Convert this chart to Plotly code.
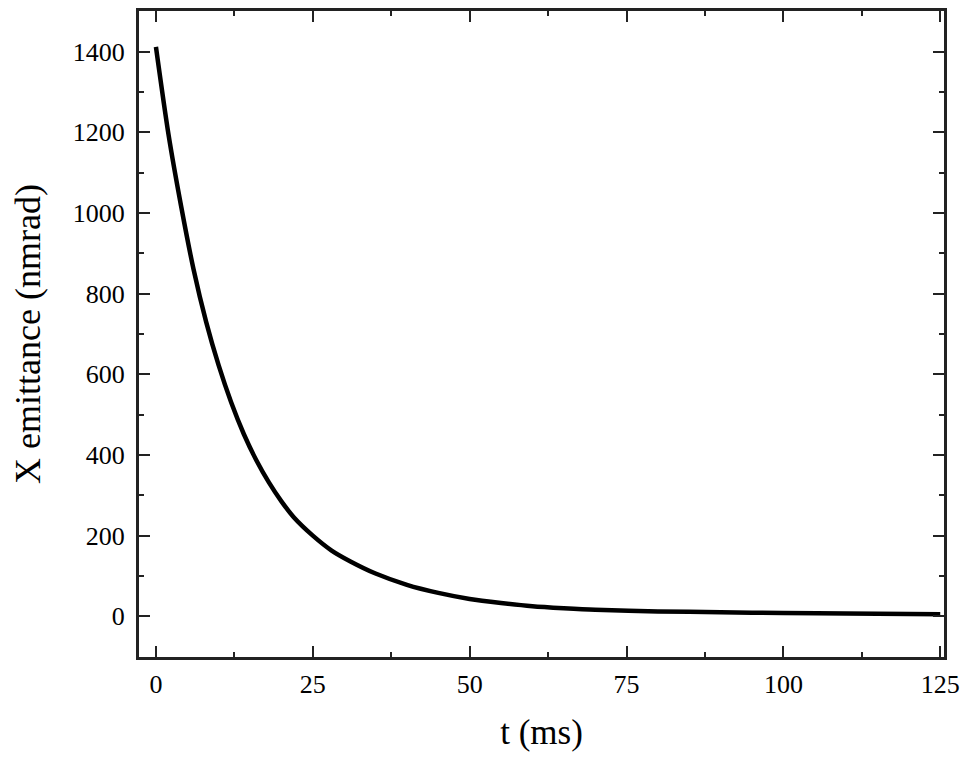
import plotly.graph_objects as go

t_ms = [0, 2, 4, 6, 8, 10, 12, 14, 16, 18, 20, 22, 25, 28, 31, 35, 40, 45, 50,
        55, 60, 65, 70, 80, 90, 100, 110, 125]
emittance = [1412, 1195, 1018, 860, 730, 622, 530, 452, 387, 332, 285, 245, 200,
             163, 136, 106, 78, 58, 43, 33, 25, 20, 16, 12, 10, 8, 7, 5]

x_ticks = [0, 25, 50, 75, 100, 125]
y_ticks = [0, 200, 400, 600, 800, 1000, 1200, 1400]

fig = go.Figure()
fig.add_trace(go.Scatter(x=t_ms, y=emittance, mode="lines",
                         line=dict(color="black", width=4.5, shape="spline", smoothing=0.8),
                         showlegend=False))

font = dict(family="Liberation Serif, Times New Roman, serif", color="black")
axis_common = dict(
    showline=True, linecolor="#222", linewidth=3, mirror="allticks",
    ticks="inside", tickcolor="#222", tickwidth=2, ticklen=11,
    showgrid=False, zeroline=False,
    tickfont=dict(size=26, **font),
    minor=dict(ticks="inside", ticklen=5, tickwidth=2, tickcolor="#222", showgrid=False),
)

fig.update_xaxes(range=[-2.7, 125.6], tickvals=x_ticks, ticktext=[str(v) for v in x_ticks],
                 minor_dtick=12.5, title=dict(text="t (ms)", font=dict(size=35, **font), standoff=22),
                 ticklabelstandoff=2, **axis_common)
fig.update_yaxes(range=[-101, 1501], tickvals=y_ticks, ticktext=[str(v) for v in y_ticks],
                 minor_dtick=100, title=dict(text="X emittance (nmrad)", font=dict(size=36, **font), standoff=33),
                 ticklabelstandoff=6, **axis_common)

fig.update_layout(width=974, height=758, margin=dict(l=131, r=38, t=0, b=109),
                  plot_bgcolor="white", paper_bgcolor="white", font=font)

fig.write_html("out.html")
